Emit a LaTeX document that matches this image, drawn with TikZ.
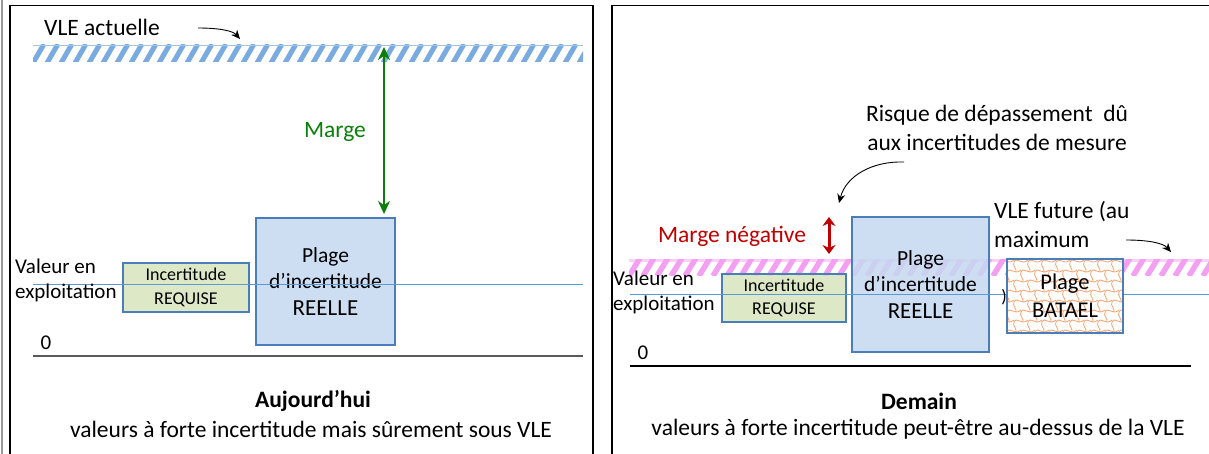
\documentclass[tikz,border=0pt]{standalone}
\usepackage{fontspec}
\setmainfont{Carlito}
\usetikzlibrary{arrows.meta}
\definecolor{bxborder}{HTML}{4A7EBB}
\definecolor{bxgreen}{HTML}{D7E4BD}
\definecolor{bxblue}{HTML}{C6D9F0}
\definecolor{hblue}{HTML}{7AABE0}
\definecolor{hpink}{HTML}{F3A0F3}
\definecolor{hpinklight}{HTML}{FAD0FA}
\definecolor{lineblue}{HTML}{5B9BD5}
\definecolor{mgreen}{HTML}{0A800A}
\definecolor{mred}{HTML}{C00000}
\definecolor{batorange}{HTML}{F8A26E}
\tikzset{
  main/.style={font=\fontsize{23.5}{29}\selectfont, inner sep=0pt, align=center},
  side/.style={font=\fontsize{21}{25}\selectfont, inner sep=0pt, align=left},
  smallbox/.style={draw=bxborder, line width=1.2pt, fill=bxgreen, fill opacity=0.85, text opacity=1, inner sep=0pt,
    font=\fontsize{18}{23.5}\selectfont, align=center},
  bigbox/.style={draw=bxborder, line width=1.2pt, fill=bxblue, fill opacity=0.85, text opacity=1, inner sep=0pt,
    font=\fontsize{21.5}{26.5}\selectfont, align=center},
  batbox/.style={draw=bxborder, line width=1.2pt, inner sep=0pt,
    font=\fontsize{22.5}{28}\selectfont, align=center},
  curvearrow/.style={draw=black, line width=0.9pt, -{Stealth[length=9pt,width=8pt]}},
  frame/.style={draw=black, line width=1.5pt},
  opline/.style={draw=lineblue, line width=1pt},
}
\begin{document}
\begin{tikzpicture}[x=1pt,y=-1pt]
\useasboundingbox (0,0) rectangle (1209,454);
\fill[white] (0,0) rectangle (1209,454);

% ---------- frames ----------
\draw[draw=black!40, line width=2pt] (1.5,0) -- (1.5,454);
\draw[frame] (10,454) -- (10,5.5) -- (593,5.5) -- (593,454);
\draw[frame] (612,454) -- (612,5.5) -- (1209,5.5);

% ================= LEFT PANEL =================
\begin{scope}
  \clip (33,45) rectangle (583,62);
  \foreach \x in {-14,0,...,560}
    \draw[hblue, line width=5pt] ({33+\x},63) -- ({33+\x+11},44);
\end{scope}
\draw[hblue!70, line width=0.8pt] (33,45.5) -- (583,45.5);

\node[smallbox, minimum width=126pt, minimum height=49pt] (req1) at (186,287.5)
  {Incertitude\\REQUISE};
\node[bigbox, minimum width=139pt, minimum height=127pt] (reel1) at (325.5,281.5)
  {Plage\\d’incertitude\\{\fontsize{23}{26.5}\selectfont REELLE}};

\draw[opline] (33,284) -- (583,284);
\draw[draw=black!65, line width=2pt] (33,356) -- (583,356);

\node[main] (vle1) at (102,27) {VLE actuelle};
\coordinate (va1) at (198,28);
\coordinate (va2) at (240,39);
\draw[curvearrow] (va1) .. controls (220,28) and (233,31) .. (va2);

\coordinate (mtop) at (384,47);
\coordinate (mbot) at (384,214);
\draw[draw=mgreen, line width=2.4pt, {Stealth[length=13pt,width=12pt]}-{Stealth[length=13pt,width=12pt]}] (mtop) -- (mbot);
\node[main, text=mgreen] (marge) at (335,132) {Marge};

\node[side, anchor=west] (val1) at (15,280.5) {Valeur en\\exploitation};
\node[side] (zero1) at (46,343) {0};

\node[main, font=\fontsize{23.5}{29}\selectfont\bfseries] (auj) at (313,401) {Aujourd’hui};
\node[main] (sub1) at (311,429) {valeurs à forte incertitude mais sûrement sous VLE};

% ================= RIGHT PANEL =================
\fill[hpinklight] (629,258.5) rectangle (1209,262);
\begin{scope}
  \clip (629,259) rectangle (1209,275);
  \foreach \x in {-14,0,...,600}
    \draw[hpink, line width=5.5pt] ({629+\x},276) -- ({629+\x+11},258);
\end{scope}

\node[smallbox, minimum width=124pt, minimum height=48pt] (req2) at (784,298)
  {Incertitude\\REQUISE};
\node[bigbox, minimum width=137pt, minimum height=135pt] (reel2) at (920.5,284.5)
  {Plage\\d’incertitude\\{\fontsize{23}{26.5}\selectfont REELLE}};

\draw[opline] (630,294) -- (1209,294);
\draw[draw=black, line width=1.2pt] (630,366) -- (1191,366);

\node[batbox, minimum width=116pt, minimum height=74pt, fill=white] (bat) at (1065,296) {};
\begin{scope}
  \clip (1007,259) rectangle (1123,333);
  \foreach \r in {0,...,7}{
    \foreach \c in {0,...,9}{
      \pgfmathsetmacro{\xx}{1000+\c*14+mod(\r,2)*7}
      \pgfmathsetmacro{\yy}{262+\r*10}
      \draw[batorange, line width=0.8pt] (\xx,\yy) .. controls ({\xx+3},{\yy-6}) and ({\xx+7},{\yy+4}) .. ({\xx+14},{\yy-2});
      \draw[batorange, line width=0.8pt] (\xx,\yy) .. controls ({\xx-2},{\yy+4}) and ({\xx+3},{\yy+6}) .. ({\xx+2},{\yy+10});
    }
  }
\end{scope}
\node[batbox, minimum width=116pt, minimum height=74pt, fill=none] (batf) at (1065,296) {Plage\\BATAEL};

\node[font=\fontsize{18}{20}\selectfont, inner sep=0pt] (paren) at (1004,297) {)};

\node[main, text=mred] (mneg) at (732,236) {Marge négative};
\coordinate (r1) at (829,217);
\coordinate (r2) at (829,254);
\draw[draw=mred, line width=3pt, {Stealth[length=9pt,width=13pt]}-{Stealth[length=9pt,width=13pt]}] (r1) -- (r2);

\node[main] (risque) at (997,127.5) {Risque de dépassement\ \ dû\\aux incertitudes de mesure};
\coordinate (ra1) at (904,162);
\coordinate (ra2) at (839,203);
\draw[curvearrow] (ra1) .. controls (872,161) and (846,176) .. (ra2);

\node[main, anchor=west, align=left] (vlef) at (994,224.5) {VLE future (au\\maximum};
\coordinate (fa1) at (1126,240);
\coordinate (fa2) at (1171,252);
\draw[curvearrow] (fa1) .. controls (1148,240) and (1163,243) .. (fa2);

\node[side, anchor=west] (val2) at (613,292) {Valeur en\\exploitation};
\node[side] (zero2) at (643,353) {0};

\node[main, font=\fontsize{23.5}{29}\selectfont\bfseries] (dem) at (919,401) {Demain};
\node[main] (sub2) at (918,429) {valeurs à forte incertitude peut-être au-dessus de la VLE};
\end{tikzpicture}
\end{document}
